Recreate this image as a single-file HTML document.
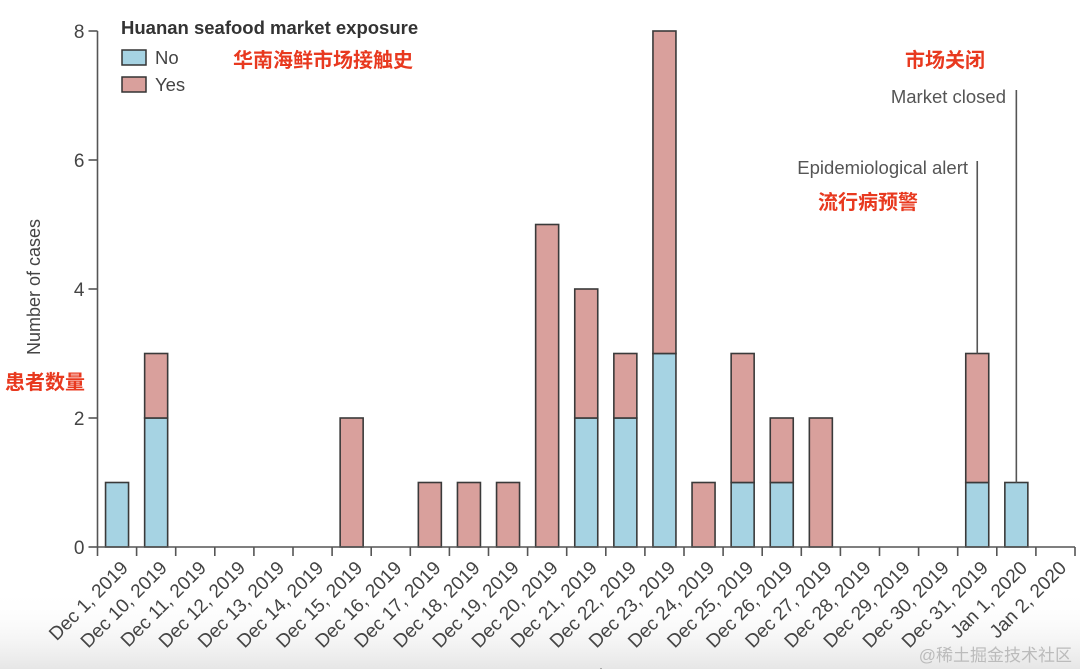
<!DOCTYPE html>
<html><head><meta charset="utf-8"><style>
html,body{margin:0;padding:0;background:#fff;}
body{width:1080px;height:669px;overflow:hidden;position:relative;}
svg{position:absolute;left:0;top:0;}
text{font-family:"Liberation Sans","Noto Sans CJK SC",sans-serif;}
</style></head><body>
<svg id="chart" width="1080" height="669">
<defs><linearGradient id="shade" x1="0" y1="0" x2="0" y2="1"><stop offset="0" stop-color="#fff" stop-opacity="0"/><stop offset="1" stop-color="#e6e6e6"/></linearGradient></defs>
<rect x="0" y="590" width="1080" height="79" fill="url(#shade)"/>
<g id="bars"></g><g id="axes"></g>
</svg>
<script>
const categories=["Dec 1, 2019","Dec 10, 2019","Dec 11, 2019","Dec 12, 2019","Dec 13, 2019","Dec 14, 2019","Dec 15, 2019","Dec 16, 2019","Dec 17, 2019","Dec 18, 2019","Dec 19, 2019","Dec 20, 2019","Dec 21, 2019","Dec 22, 2019","Dec 23, 2019","Dec 24, 2019","Dec 25, 2019","Dec 26, 2019","Dec 27, 2019","Dec 28, 2019","Dec 29, 2019","Dec 30, 2019","Dec 31, 2019","Jan 1, 2020","Jan 2, 2020"];
const noExposure=[1,2,0,0,0,0,0,0,0,0,0,0,2,2,3,0,1,1,0,0,0,0,1,1,0];
const yesExposure=[0,1,0,0,0,0,2,0,1,1,1,5,2,1,5,1,2,1,2,0,0,0,2,0,0];
const yTicks=[0,2,4,6,8];

const NS="http://www.w3.org/2000/svg";
const X0=97.5,STEP=39.1,Y0=547,YU=64.5,BW=23;
const xc=i=>X0+(i+0.5)*STEP;
const y=v=>Y0-v*YU;
function mk(tag,attrs,parent,txt){const e=document.createElementNS(NS,tag);for(const k in attrs)e.setAttribute(k,attrs[k]);if(txt!==undefined)e.textContent=txt;parent.appendChild(e);return e;}
const bars=document.getElementById('bars'),axes=document.getElementById('axes');

categories.forEach((c,i)=>{
  const n=noExposure[i],s=yesExposure[i];
  if(n>0){const r=mk('rect',{x:xc(i)-BW/2,y:y(n),width:BW,height:n*YU,fill:'#a6d3e3',stroke:'#3a3a3a','stroke-width':1.6},bars);
    
    }
  if(s>0){const r=mk('rect',{x:xc(i)-BW/2,y:y(n+s),width:BW,height:s*YU,fill:'#d9a09c',stroke:'#3a3a3a','stroke-width':1.6},bars);
    
    }
  const t=mk('text',{x:0,y:0,'text-anchor':'end','font-size':19,fill:'#444',transform:`translate(${xc(i)+12},${Y0+22}) rotate(-45)`},axes,c);
  
  
});
for(let i=0;i<=categories.length;i++){const l=mk('line',{x1:X0+i*STEP,x2:X0+i*STEP,y1:Y0,y2:Y0+9,stroke:'#555','stroke-width':1.6},axes);
  
  }
const xa=mk('line',{x1:X0,x2:X0+categories.length*STEP,y1:Y0,y2:Y0,stroke:'#555','stroke-width':1.6},axes);


const ya=mk('line',{x1:X0,x2:X0,y1:y(8),y2:Y0,stroke:'#555','stroke-width':1.6},axes);


yTicks.forEach(v=>{
  const l=mk('line',{x1:X0-9,x2:X0,y1:y(v),y2:y(v),stroke:'#555','stroke-width':1.6},axes);
  
  
  const t=mk('text',{x:X0-13,y:y(v)+7,'text-anchor':'end','font-size':19,fill:'#444'},axes,String(v));
  
  
});
function ann(i,top,label,lx,ly,name){
  const n=noExposure[i]+yesExposure[i];
  const l=mk('line',{x1:xc(i),x2:xc(i),y1:top,y2:y(n),stroke:'#555','stroke-width':1.6},axes);
  
  
  const t=mk('text',{x:lx,y:ly,'text-anchor':'end','font-size':18.5,fill:'#555'},axes,label);
  
  
}
ann(22,161,'Epidemiological alert',968,174,'epidemiological-alert');
ann(23,90,'Market closed',1006,103,'market-closed');
</script>
<svg width="1080" height="669" style="pointer-events:none">
<text x="121" y="34" font-size="18.5" font-weight="bold" fill="#333">Huanan seafood market exposure</text>
<rect x="122" y="50" width="24" height="15" fill="#a6d3e3" stroke="#333" stroke-width="1.5"/>
<text x="155" y="64" font-size="18.5" fill="#444">No</text>
<rect x="122" y="77" width="24" height="15" fill="#d9a09c" stroke="#333" stroke-width="1.5"/>
<text x="155" y="91" font-size="18.5" fill="#444">Yes</text>
<text x="233" y="67" font-size="20" font-weight="bold" fill="#e8391f">华南海鲜市场接触史</text>
<text x="905" y="67" font-size="20" font-weight="bold" fill="#e8391f">市场关闭</text>
<text x="818" y="209" font-size="20" font-weight="bold" fill="#e8391f">流行病预警</text>
<text x="5" y="389" font-size="20" font-weight="bold" fill="#e8391f">患者数量</text>
<text transform="translate(40,287) rotate(-90)" text-anchor="middle" font-size="18" fill="#444">Number of cases</text>
<text x="540" y="682" font-size="18" fill="#444">Onset date</text>
<text x="1072" y="661" text-anchor="end" font-size="17" fill="#bbb">@稀土掘金技术社区</text>
</svg>
</body></html>
